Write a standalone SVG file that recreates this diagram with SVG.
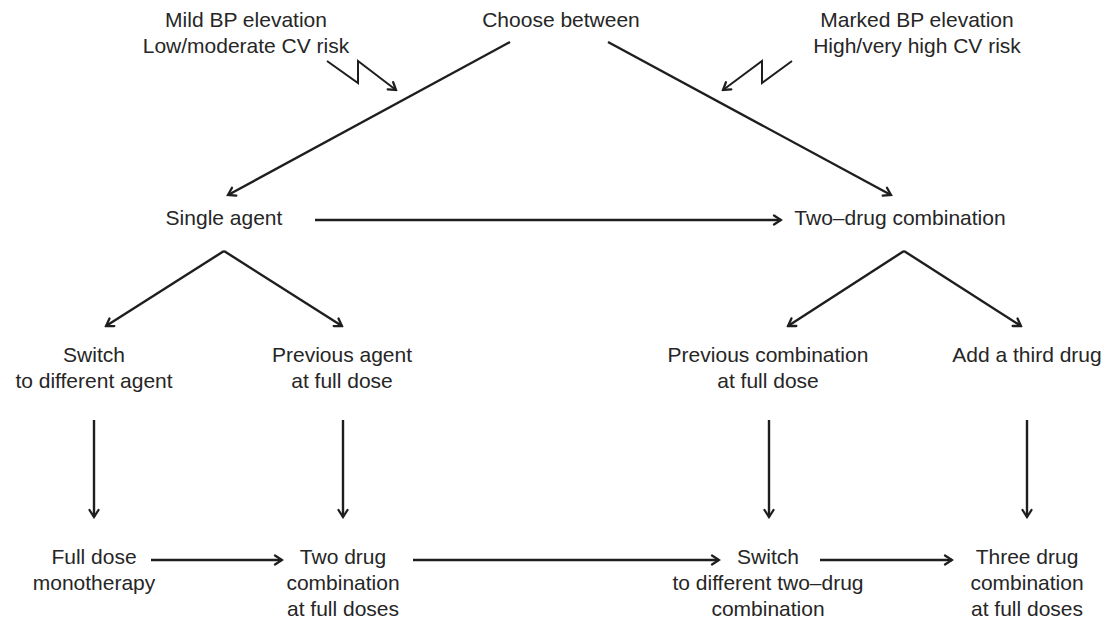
<svg xmlns="http://www.w3.org/2000/svg" width="1112" height="621" viewBox="0 0 1112 621">
<defs>
<marker id="ah" viewBox="-9 -6 11 12" refX="0" refY="0" markerWidth="11" markerHeight="12" markerUnits="userSpaceOnUse" orient="auto">
<path d="M-7,-4.5 L0,0 L-7,4.5" fill="none" stroke="#1e1e1e" stroke-width="2.3" stroke-linecap="round" stroke-linejoin="miter"/>
</marker>
<style>
text{font-family:"Liberation Sans",Arial,sans-serif;font-size:21px;fill:#262626;text-anchor:middle;}
.c{fill:none;stroke:#1e1e1e;stroke-width:2.4;marker-end:url(#ah);}
.z{fill:none;stroke:#1e1e1e;stroke-width:2;stroke-linejoin:miter;marker-end:url(#ah);}
</style>
</defs>
<rect width="1112" height="621" fill="#ffffff"/>
<g id="connectors">
<polyline class="z" points="327,61 358,83 358,61 396,90"/>
<polyline class="z" points="792,61 762,83 762,61 723,90"/>
<line class="c" x1="510" y1="42" x2="228" y2="195"/>
<line class="c" x1="608" y1="42" x2="891" y2="195"/>
<line class="c" x1="315" y1="220" x2="781" y2="220"/>
<line class="c" x1="224" y1="251" x2="106" y2="326"/>
<line class="c" x1="224" y1="251" x2="342" y2="326"/>
<line class="c" x1="904" y1="251" x2="788" y2="326"/>
<line class="c" x1="904" y1="251" x2="1021" y2="326"/>
<line class="c" x1="94" y1="420" x2="94" y2="517"/>
<line class="c" x1="343" y1="420" x2="343" y2="517"/>
<line class="c" x1="769" y1="420" x2="769" y2="517"/>
<line class="c" x1="1027" y1="420" x2="1027" y2="517"/>
<line class="c" x1="151" y1="560" x2="282" y2="560"/>
<line class="c" x1="413" y1="560" x2="719" y2="560"/>
<line class="c" x1="820" y1="560" x2="952" y2="560"/>
</g>
<g id="mild"><text x="246" y="27">Mild BP elevation</text><text x="246" y="53">Low/moderate CV risk</text></g>
<g id="choose"><text x="561" y="27">Choose between</text></g>
<g id="marked"><text x="917" y="27">Marked BP elevation</text><text x="917" y="53">High/very high CV risk</text></g>
<g id="single"><text x="224" y="225">Single agent</text></g>
<g id="twodrug"><text x="900" y="225">Two–drug combination</text></g>
<g id="switch"><text x="94" y="362">Switch</text><text x="94" y="388">to different agent</text></g>
<g id="prevagent"><text x="342" y="362">Previous agent</text><text x="342" y="388">at full dose</text></g>
<g id="prevcomb"><text x="768" y="362">Previous combination</text><text x="768" y="388">at full dose</text></g>
<g id="third"><text x="1027" y="362">Add a third drug</text></g>
<g id="fulldose"><text x="94" y="564">Full dose</text><text x="94" y="590">monotherapy</text></g>
<g id="twofull"><text x="343" y="564">Two drug</text><text x="343" y="590">combination</text><text x="343" y="616">at full doses</text></g>
<g id="switchcomb"><text x="768" y="564">Switch</text><text x="768" y="590">to different two–drug</text><text x="768" y="616">combination</text></g>
<g id="threefull"><text x="1027" y="564">Three drug</text><text x="1027" y="590">combination</text><text x="1027" y="616">at full doses</text></g>
</svg>
